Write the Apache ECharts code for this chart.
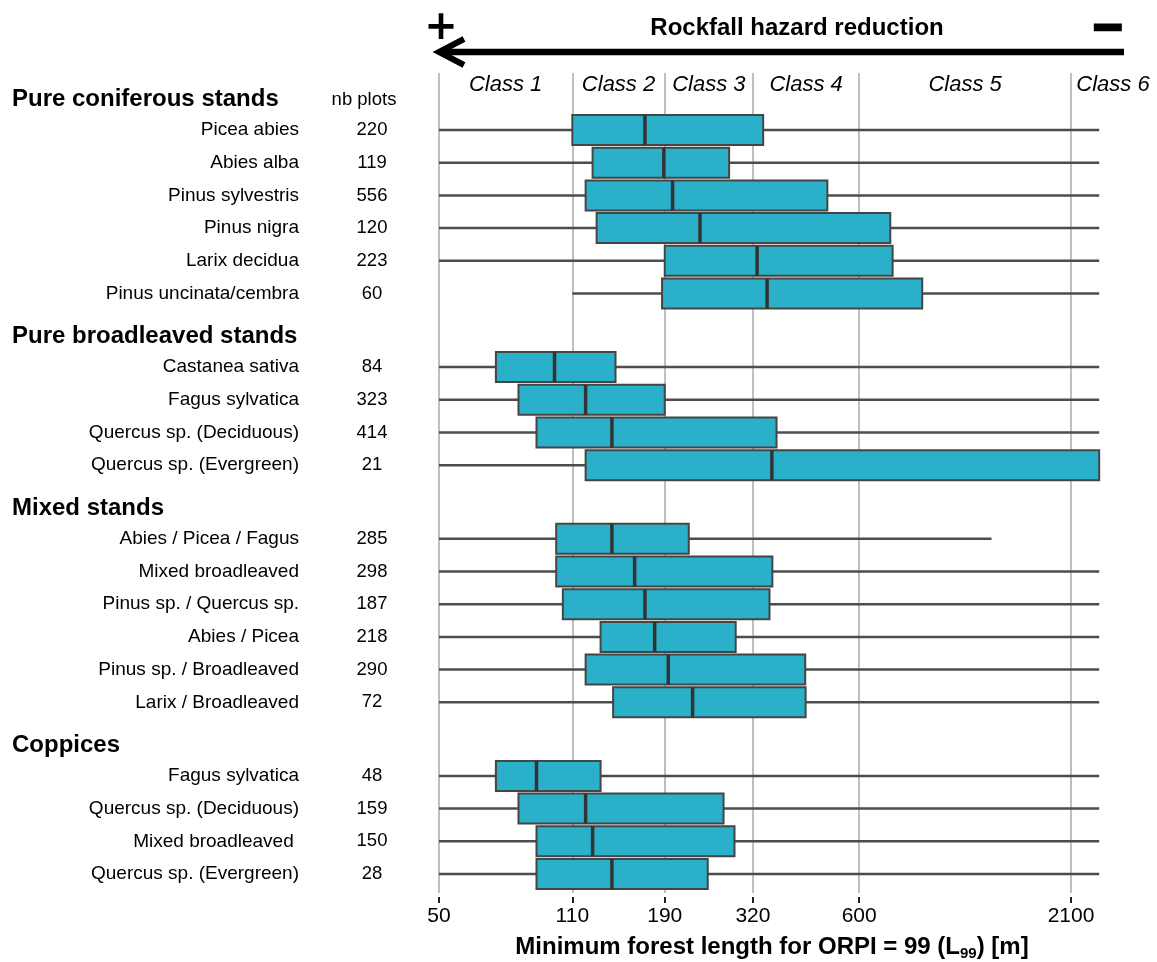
<!DOCTYPE html>
<html><head><meta charset="utf-8">
<script src="https://cdn.jsdelivr.net/npm/echarts@6/dist/echarts.min.js"></script>
<style>html,body{margin:0;padding:0;background:#fff}#c{width:1157px;height:962px}</style>
</head><body><div id="c"></div>
<script>
// ---------------- data ----------------
const groupNames = ['Pure coniferous stands', 'Pure broadleaved stands', 'Mixed stands', 'Coppices'];
const groupSizes = [6, 4, 6, 4];
const species = [
  'Picea abies', 'Abies alba', 'Pinus sylvestris', 'Pinus nigra', 'Larix decidua', 'Pinus uncinata/cembra',
  'Castanea sativa', 'Fagus sylvatica', 'Quercus sp. (Deciduous)', 'Quercus sp. (Evergreen)',
  'Abies / Picea / Fagus', 'Mixed broadleaved', 'Pinus sp. / Quercus sp.', 'Abies / Picea', 'Pinus sp. / Broadleaved', 'Larix / Broadleaved',
  'Fagus sylvatica', 'Quercus sp. (Deciduous)', 'Mixed broadleaved ', 'Quercus sp. (Evergreen)'
];
const nbPlots      = [220, 119, 556, 120, 223, 60, 84, 323, 414, 21, 285, 298, 187, 218, 290, 72, 48, 159, 150, 28];
const lowerWhisker = [50, 50, 50, 50, 50, 110, 50, 50, 50, 50, 50, 50, 50, 50, 50, 50, 50, 50, 50, 50];
const q1           = [110, 124, 119, 127, 190, 187, 70, 80, 89, 119, 100, 100, 104, 130, 119, 140, 70, 80, 89, 89];
const median       = [169, 189, 199, 234, 328, 348, 99, 119, 139, 358, 139, 159, 169, 179, 194, 224, 89, 119, 124, 139];
const q3           = [340, 278, 497, 721, 731, 871, 142, 190, 368, 2480, 219, 359, 353, 289, 436, 437, 130, 269, 287, 245];
const upperWhisker = [2480, 2480, 2480, 2480, 2480, 2480, 2480, 2480, 2480, 2480, 1312, 2480, 2480, 2480, 2480, 2480, 2480, 2480, 2480, 2480];
const xTicks = [50, 110, 190, 320, 600, 2100];
const classNames = ['Class 1', 'Class 2', 'Class 3', 'Class 4', 'Class 5', 'Class 6'];
const classBounds = [50, 110, 190, 320, 600, 2100, 3450];
const axisTitleMain = 'Minimum forest length for ORPI = 99 (L';
const axisTitleSub = '99';
const axisTitleEnd = ') [m]';
const arrowTitle = 'Rockfall hazard reduction';
const nbHeader = 'nb plots';

// ---------------- layout helpers ----------------
const FONT = '"Liberation Sans", Arial, sans-serif';
const GROUP_GAP = 1.25, HEAD_OFFSET = 0.93;
const rowPos = [], headPos = [];
let idx = 0;
groupSizes.forEach((n, g) => {
  headPos.push(idx + g * GROUP_GAP - HEAD_OFFSET);
  for (let i = 0; i < n; i++) { rowPos.push(idx + g * GROUP_GAP); idx++; }
});
const classMid = classNames.map((_, i) => Math.sqrt(classBounds[i] * classBounds[i + 1]));

function nearest(list, v) {
  let best = null, bd = 1e9;
  list.forEach(o => { const d = Math.abs(o.p - v); if (d < bd) { bd = d; best = o; } });
  return best ? best.text : '';
}
// names axis: group headings + species names
const nameLabels = [];
headPos.forEach((p, g) => nameLabels.push({ p, text: '{h|' + groupNames[g] + '}' }));
rowPos.forEach((p, i) => nameLabels.push({ p, text: species[i] }));
// counts axis: header + counts
const countLabels = [{ p: headPos[0], text: '{hp|' + nbHeader + '}{sp| }' }];
rowPos.forEach((p, i) => countLabels.push({ p, text: String(nbPlots[i]) }));

function classLabel(v) {
  let best = 0, bd = 1e9;
  classMid.forEach((m, i) => { const d = Math.abs(Math.log(m) - Math.log(v)); if (d < bd) { bd = d; best = i; } });
  return classNames[best];
}
const boxData = rowPos.map((p, i) => [p, lowerWhisker[i], q1[i], median[i], q3[i], upperWhisker[i]]);

const yBase = {
  type: 'value', inverse: true, min: -1.743, max: 23.331, position: 'left', offset: 0,
  axisLine: { show: false, onZero: false }, axisTick: { show: false }, splitLine: { show: false }
};

const chart = echarts.init(document.getElementById('c'), null, { renderer: 'canvas' });
chart.setOption({
  animation: false,
  backgroundColor: '#fff',
  grid: { left: 439, right: 2, top: 73, bottom: 69, containLabel: false, outerBoundsMode: 'none' },
  xAxis: [{
    type: 'log', min: 50, max: 3450, position: 'bottom', offset: 4,
    axisLine: { show: false, onZero: false },
    axisTick: { show: true, customValues: xTicks, length: 6, lineStyle: { color: '#222', width: 2 } },
    axisLabel: { customValues: xTicks, margin: 9, color: '#000', fontSize: 21, fontFamily: FONT, formatter: v => String(Math.round(v)) },
    splitLine: { show: true, lineStyle: { color: '#bfbfbf', width: 2 } },
    name: '{b|' + axisTitleMain + '}{s|' + axisTitleSub + '}{b|' + axisTitleEnd + '}',
    nameLocation: 'middle', nameGap: 36,
    nameTextStyle: {
      padding: [0, 50, 0, 0],
      rich: {
        b: { fontSize: 24, fontWeight: 'bold', color: '#000', fontFamily: FONT, lineHeight: 28, verticalAlign: 'middle' },
        s: { fontSize: 15, fontWeight: 'bold', color: '#000', fontFamily: FONT, lineHeight: 15, verticalAlign: 'bottom' }
      }
    }
  }, {
    type: 'log', min: 50, max: 3450, position: 'top',
    axisLine: { show: false, onZero: false }, axisTick: { show: false }, splitLine: { show: false },
    axisLabel: { customValues: classMid, inside: true, margin: 1, color: '#000', fontSize: 22, fontStyle: 'italic', fontFamily: FONT, formatter: classLabel }
  }],
  yAxis: [
    Object.assign({}, yBase, {
      axisLabel: {
        customValues: nameLabels.map(o => o.p), margin: 140, align: 'right',
        formatter: v => nearest(nameLabels, v), color: '#000', fontSize: 19, fontFamily: FONT,
        rich: { h: { fontSize: 24, fontWeight: 'bold', color: '#000', fontFamily: FONT, width: 287, align: 'left' } }
      }
    }),
    Object.assign({}, yBase, {
      axisLabel: {
        customValues: countLabels.map(o => o.p), margin: 67, align: 'center',
        formatter: v => nearest(countLabels, v), color: '#000', fontSize: 18.5, fontFamily: FONT,
        rich: {
          hp: { fontSize: 18.5, color: '#000', fontFamily: FONT, width: 70 },
          sp: { fontSize: 18.5, width: 16 }
        }
      }
    })
  ],
  graphic: [
    { type: 'text', x: 797, y: 28, style: { text: arrowTitle, font: 'bold 24px ' + FONT, fill: '#000', textAlign: 'center', textVerticalAlign: 'middle' } },
    { type: 'text', x: 441, y: 29, style: { text: '+', font: 'bold 40px "DejaVu Sans"', fill: '#000', textAlign: 'center', textVerticalAlign: 'middle' } },
    { type: 'text', x: 1108, y: 30, style: { text: '\u2212', font: 'bold 40px "DejaVu Sans"', fill: '#000', stroke: '#000', lineWidth: 3, textAlign: 'center', textVerticalAlign: 'middle' } },
    { type: 'line', shape: { x1: 1124, y1: 52, x2: 442, y2: 52 }, style: { stroke: '#000', lineWidth: 6.5 } },
    { type: 'polyline', shape: { points: [[464, 39], [439, 52], [464, 65]] }, style: { stroke: '#000', lineWidth: 6, fill: null, lineJoin: 'miter' } }
  ],
  series: [{
    type: 'custom', xAxisIndex: 0, yAxisIndex: 0,
    encode: { x: [1, 2, 3, 4, 5], y: 0 },
    data: boxData,
    renderItem: function (params, api) {
      const y = api.value(0);
      const pLo = api.coord([api.value(1), y]);
      const pQ1 = api.coord([api.value(2), y]);
      const pMd = api.coord([api.value(3), y]);
      const pQ3 = api.coord([api.value(4), y]);
      const pHi = api.coord([api.value(5), y]);
      const h = 30;
      return {
        type: 'group', children: [
          { type: 'line', shape: { x1: pLo[0], y1: pLo[1], x2: pHi[0], y2: pHi[1] }, style: { stroke: '#4d4d4d', lineWidth: 2.5 } },
          { type: 'rect', shape: { x: pQ1[0], y: pQ1[1] - h / 2, width: pQ3[0] - pQ1[0], height: h }, style: { fill: '#2ab0c8', stroke: '#454545', lineWidth: 2 } },
          { type: 'line', shape: { x1: pMd[0], y1: pMd[1] - h / 2, x2: pMd[0], y2: pMd[1] + h / 2 }, style: { stroke: '#333', lineWidth: 3.5 } }
        ]
      };
    }
  }]
});
</script></body></html>
